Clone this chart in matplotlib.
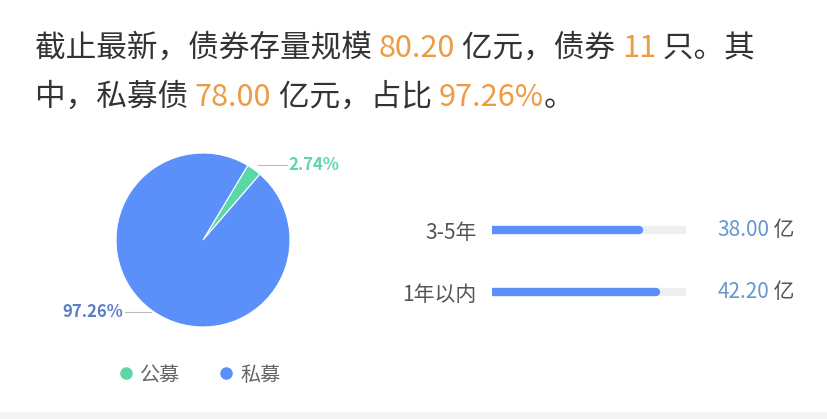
import matplotlib
matplotlib.use("Agg")
import matplotlib.pyplot as plt
import numpy as np
from matplotlib.lines import Line2D
from matplotlib.patches import Rectangle
from matplotlib.transforms import offset_copy

plt.rcParams['font.family'] = ['Noto Sans CJK SC', 'DejaVu Sans']

# data
pie_labels = ["公募", "私募"]
pie_values = [2.74, 97.26]
pie_colors = ["#5AD8A6", "#5B8FF9"]

term_labels = ["3-5年", "1年以内"]
term_values = [38.00, 42.20]
term_max = 50

title_lines = [
    [("截止最新，债券存量规模 ", "dark"), ("80.20", "hl"), (" 亿元，债券 ", "dark"),
     ("11", "hl"), (" 只。其", "dark")],
    [("中，私募债 ", "dark"), ("78.00", "hl"), (" 亿元，占比 ", "dark"),
     ("97.26%", "hl"), ("。", "dark")],
]
text_colors = {"dark": "#333333", "hl": "#EE9B45"}

W, H = 828, 419
fig = plt.figure(figsize=(W / 100, H / 100), dpi=100)
fig.patch.set_facecolor("white")


def px_box(x0, y0, x1, y1):
    # pixel box (top-left origin) -> figure fraction rect
    return [x0 / W, 1 - y1 / H, (x1 - x0) / W, (y1 - y0) / H]


def rich_text(x, y, parts, size):
    renderer = fig.canvas.get_renderer()
    trans = fig.transFigure
    for s, key in parts:
        t = fig.text(x / W, 1 - y / H, s, color=text_colors[key], fontsize=size,
                     va="baseline", ha="left", transform=trans)
        t.draw(renderer)
        ex = t.get_window_extent(renderer)
        trans = offset_copy(t.get_transform(), fig=fig, x=ex.width, units="dots")


# headline
rich_text(35, 57, title_lines[0], 22.1)
rich_text(35, 106, title_lines[1], 22.1)

# pie
cx, cy, r = 203, 240, 87
ax_pie = fig.add_axes(px_box(cx - r, cy - r, cx + r, cy + r))
wedges, _ = ax_pie.pie(pie_values, colors=pie_colors, startangle=59, counterclock=False,
                       radius=1, wedgeprops=dict(edgecolor="white", linewidth=0.8))
ax_pie.set_xlim(-1, 1)
ax_pie.set_ylim(-1, 1)
ax_pie.set_aspect("equal")
ax_pie.axis("off")

for w, v, c, side in zip(wedges, pie_values, pie_colors, [1, -1]):
    mid = np.deg2rad((w.theta1 + w.theta2) / 2)
    x0, y0 = 1.02 * np.cos(mid), 1.02 * np.sin(mid)
    if side > 0:
        x0, y0 = 1.07 * np.cos(mid), 1.07 * np.sin(mid)
        x1 = 0.96
        ax_pie.plot([x0, x1], [y0, y0], color="#BBBBBB", lw=0.8, clip_on=False)
        ax_pie.text(x1 + 0.02, y0, f"{v:.2f}%", color=c, fontsize=12, fontweight="semibold",
                    ha="left", va="center")
    else:
        x1 = -0.9
        ax_pie.plot([x0, x1], [y0, y0], color="#BBBBBB", lw=0.8, clip_on=False)
        ax_pie.text(x1 - 0.02, y0, f"{v:.2f}%", color="#5B7FC7", fontsize=12,
                    fontweight="semibold", ha="right", va="center")

handles = [Line2D([], [], marker="o", linestyle="none", markersize=8,
                  markerfacecolor=c, markeredgecolor=c) for c in pie_colors]
leg = fig.legend(handles, pie_labels, loc="center", bbox_to_anchor=(200 / W, 1 - 375 / H),
                 ncol=2, frameon=False, fontsize=14.5, handlelength=0.6, handletextpad=0.4,
                 columnspacing=2.0, labelcolor="#666666")

# term bars
cap = 4
ax_bar = fig.add_axes(px_box(488 + cap, 199, 690 - cap, 323))
ypos = np.arange(len(term_labels))
for i, v in enumerate(term_values):
    ax_bar.plot([0, term_max], [i, i], color="#EFEFEF", lw=6, solid_capstyle="round")
    ax_bar.plot([0, v], [i, i], color="#5B8FF9", lw=6, solid_capstyle="round")
ax_bar.set_xlim(0, term_max)
ax_bar.set_ylim(1.5, -0.5)
ax_bar.set_yticks(ypos)
ax_bar.set_yticklabels(term_labels, fontsize=15, color="#555555")
ax_bar.tick_params(axis="y", length=0, pad=11)
ax_bar.set_xticks([])
for s in ax_bar.spines.values():
    s.set_visible(False)
ax_bar.patch.set_alpha(0)

renderer = fig.canvas.get_renderer()
for i, v in enumerate(term_values):
    t = ax_bar.annotate(f"{v:.2f}", xy=(term_max, i), xytext=(22.5, 0),
                        textcoords="offset points", fontsize=15, color="#6A94CF",
                        ha="left", va="center")
    t.draw(renderer)
    wpt = t.get_window_extent(renderer).width * 72 / fig.dpi
    ax_bar.annotate(" 亿", xy=(term_max, i), xytext=(22.5 + wpt, 0),
                    textcoords="offset points", fontsize=15, color="#555555",
                    ha="left", va="center")

# bottom grey strip
fig.patches.append(Rectangle((0, 0), 1, 7 / H, transform=fig.transFigure,
                             facecolor="#F4F4F4", edgecolor="none", zorder=-1))

fig.savefig("out.png", dpi=100)
